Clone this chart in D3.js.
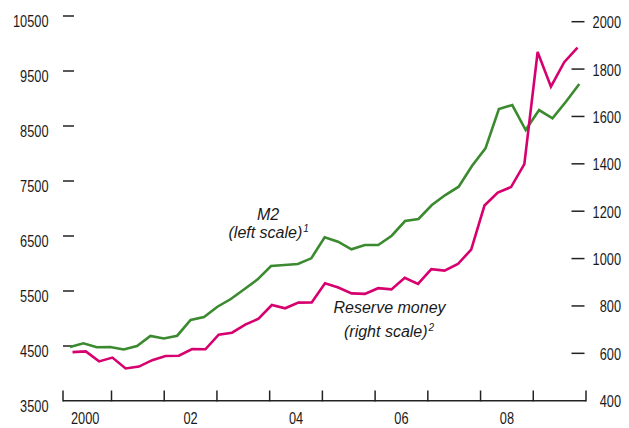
<!DOCTYPE html>
<html>
<head>
<meta charset="utf-8">
<script src="https://cdn.jsdelivr.net/npm/d3@7/dist/d3.min.js"></script>
<style>
  html, body { margin: 0; padding: 0; background: #ffffff; }
  svg { display: block; }
  .tick-label { font-family: "Liberation Sans", Arial, sans-serif; font-size: 16px; fill: #1a1a1a; }
  .annot { font-family: "Liberation Sans", Arial, sans-serif; font-style: italic; font-size: 16px; fill: #1a1a1a; }
</style>
</head>
<body>
<svg id="chart" width="629" height="428"></svg>
<script>
// ---- Data ----
const quarters = [
  "2000Q1","2000Q2","2000Q3","2000Q4","2001Q1","2001Q2","2001Q3","2001Q4",
  "2002Q1","2002Q2","2002Q3","2002Q4","2003Q1","2003Q2","2003Q3","2003Q4",
  "2004Q1","2004Q2","2004Q3","2004Q4","2005Q1","2005Q2","2005Q3","2005Q4",
  "2006Q1","2006Q2","2006Q3","2006Q4","2007Q1","2007Q2","2007Q3","2007Q4",
  "2008Q1","2008Q2","2008Q3","2008Q4","2009Q1","2009Q2","2009Q3"
];
const m2 = [
  4482, 4549, 4476, 4482, 4436, 4500, 4682, 4636, 4687, 4973,
  5027, 5214, 5354, 5531, 5712, 5954, 5972, 5991, 6094, 6478,
  6396, 6258, 6336, 6336, 6505, 6772, 6809, 7063, 7245, 7396,
  7778, 8094, 8809, 8881, 8427, 8790, 8640, 8941, 9263
];
const reserveMoney = [
  605, 608, 566, 582, 536, 544, 571, 589, 590, 618,
  617, 679, 687, 721, 746, 804, 790, 814, 815, 896,
  878, 853, 851, 875, 870, 919, 893, 955, 949, 977,
  1038, 1224, 1279, 1302, 1399, 1872, 1726, 1829, 1891
];
const leftTicks = [3500, 4500, 5500, 6500, 7500, 8500, 9500, 10500];
const rightTicks = [400, 600, 800, 1000, 1200, 1400, 1600, 1800, 2000];
const yearTicks = [2001, 2002, 2003, 2004, 2005, 2006, 2007, 2008, 2009, 2010];
const yearLabels = [
  { year: 2000, label: "2000" },
  { year: 2002, label: "02" },
  { year: 2004, label: "04" },
  { year: 2006, label: "06" },
  { year: 2008, label: "08" }
];

// ---- Scales ----
const svg = d3.select("#chart");
const xYear = d3.scaleLinear().domain([2000.08, 2010]).range([63, 586]);
const xM2 = d3.scalePoint().domain(quarters).range([70, 579.3]);
const xRes = d3.scalePoint().domain(quarters).range([72.5, 577.5]);
const yL = d3.scaleLinear().domain([3500, 10500]).range([401, 16]);
const yR = d3.scaleLinear().domain([400, 2000]).range([400.7, 21.7]);

const axisColor = "#222";
const charW = 7.1; // condensed digit width

function condensed(sel) {
  sel.attr("textLength", function () { return this.textContent.length * charW; })
     .attr("lengthAdjust", "spacingAndGlyphs");
}

// ---- X axis ----
const gx = svg.append("g");
gx.append("line")
  .attr("x1", xYear(2000.08)).attr("x2", xYear(2010))
  .attr("y1", 400.7).attr("y2", 400.7)
  .attr("stroke", axisColor).attr("stroke-width", 1.5);
gx.selectAll("line.xt")
  .data([2000.08].concat(yearTicks))
  .enter().append("line")
  .attr("class", "xt")
  .attr("x1", d => xYear(d)).attr("x2", d => xYear(d))
  .attr("y1", 390.5).attr("y2", 401.4)
  .attr("stroke", axisColor).attr("stroke-width", 1.5);
gx.selectAll("text")
  .data(yearLabels)
  .enter().append("text")
  .attr("class", "tick-label")
  .attr("x", d => xYear(d.year + 0.5))
  .attr("y", 424)
  .attr("text-anchor", "middle")
  .text(d => d.label)
  .call(condensed);

// ---- Left axis ----
const gl = svg.append("g");
gl.selectAll("line")
  .data(leftTicks.filter(v => v !== 3500))
  .enter().append("line")
  .attr("x1", 63).attr("x2", 74)
  .attr("y1", d => yL(d)).attr("y2", d => yL(d))
  .attr("stroke", axisColor).attr("stroke-width", 1.5);
gl.selectAll("text")
  .data(leftTicks)
  .enter().append("text")
  .attr("class", "tick-label")
  .attr("x", 48.5)
  .attr("y", d => yL(d) + 10.5)
  .attr("text-anchor", "end")
  .text(d => d)
  .call(condensed);

// ---- Right axis ----
const gr = svg.append("g");
gr.selectAll("line")
  .data(rightTicks.filter(v => v !== 400))
  .enter().append("line")
  .attr("x1", 571.5).attr("x2", 584.5)
  .attr("y1", d => yR(d)).attr("y2", d => yR(d))
  .attr("stroke", axisColor).attr("stroke-width", 1.5);
gr.selectAll("text")
  .data(rightTicks)
  .enter().append("text")
  .attr("class", "tick-label")
  .attr("x", 621)
  .attr("y", d => yR(d) + 6.5)
  .attr("text-anchor", "end")
  .text(d => d)
  .call(condensed);

// ---- Lines ----
const lineM2 = d3.line().x((d, i) => xM2(quarters[i])).y(d => yL(d));
const lineRes = d3.line().x((d, i) => xRes(quarters[i])).y(d => yR(d));

svg.append("path")
  .datum(m2)
  .attr("d", lineM2)
  .attr("fill", "none")
  .attr("stroke", "#3b8a2f")
  .attr("stroke-width", 2.6)
  .attr("stroke-linejoin", "miter");

svg.append("path")
  .datum(reserveMoney)
  .attr("d", lineRes)
  .attr("fill", "none")
  .attr("stroke", "#d6006f")
  .attr("stroke-width", 2.6)
  .attr("stroke-linejoin", "miter");

// ---- Annotations ----
svg.append("text").attr("class", "annot")
  .attr("x", 268).attr("y", 220).attr("text-anchor", "middle").text("M2");
const t1 = svg.append("text").attr("class", "annot")
  .attr("x", 228.5).attr("y", 238);
t1.append("tspan").text("(left scale)");
t1.append("tspan").attr("dx", 1).attr("dy", -6).attr("font-size", 10).text("1");

svg.append("text").attr("class", "annot")
  .attr("x", 333.5).attr("y", 313).text("Reserve money");
const t2 = svg.append("text").attr("class", "annot")
  .attr("x", 344).attr("y", 337);
t2.append("tspan").text("(right scale)");
t2.append("tspan").attr("dx", 1).attr("dy", -6).attr("font-size", 10).text("2");
</script>
</body>
</html>
